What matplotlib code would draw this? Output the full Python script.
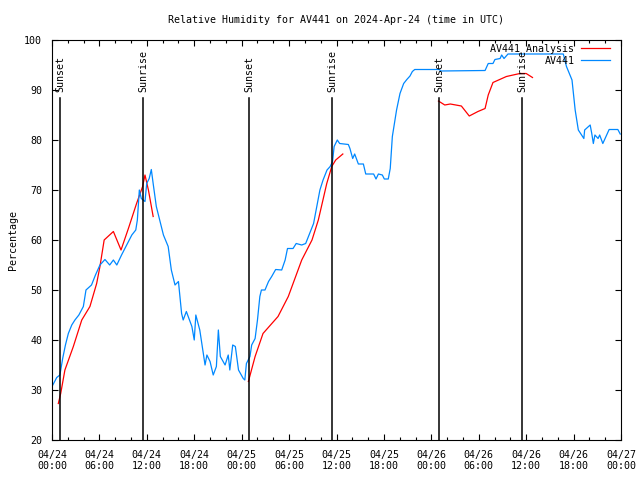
import matplotlib
matplotlib.use('Agg')
import matplotlib.pyplot as plt
import matplotlib.dates as mdates
import numpy as np

plt.rcParams['font.family'] = ['DejaVu Sans Mono']
plt.rcParams['font.size'] = 7.2

START = np.datetime64('2024-04-24T00:00')

# Observed station data (hours since start, % RH)
obs_hours = [0.1, 0.6, 1.0, 1.35, 1.7, 2.07, 2.5, 2.9, 3.4, 3.96, 4.3, 5.0, 5.5, 6.07, 6.7,
             7.3, 7.76, 8.2, 8.8, 9.45, 10.1, 10.6, 10.8, 11.05, 11.3, 11.77, 11.98, 12.3,
             12.57, 12.8, 13.2, 13.67, 14.1, 14.7, 15.1, 15.56, 16.0, 16.4, 16.6, 17.0, 17.7,
             18.0, 18.2, 18.7, 19.36, 19.6, 20.0, 20.4, 20.8, 21.05, 21.3, 21.9, 22.3, 22.5,
             22.86, 23.2, 23.6, 24.2, 24.4, 24.6, 25.05, 25.27, 25.7, 26.0, 26.3, 26.5, 26.95,
             27.4, 27.8, 28.3, 29.06, 29.5, 29.8, 30.5, 30.9, 31.6, 32.1, 32.6, 33.1, 33.5,
             33.9, 34.3, 34.8, 35.2, 35.5, 35.7, 36.1, 36.4, 37.5, 37.7, 38.05, 38.3, 38.76,
             39.4, 39.7, 40.7, 41.0, 41.3, 41.8, 42.05, 42.55, 42.8, 43.06, 43.4, 43.6, 44.03,
             44.5, 44.9, 45.3, 45.6, 45.9, 49.0, 49.2, 54.8, 55.2, 55.8, 56.05, 56.7, 56.9,
             57.2, 57.7, 64.7, 65.1, 65.8, 66.2, 66.6, 67.3, 67.4, 68.1, 68.3, 68.5, 68.7,
             69.1, 69.3, 69.7, 70.5, 71.6, 71.9]
obs_rh = [31, 32.5, 33, 36.3, 39, 41.3, 43, 44, 45, 46.7, 50, 51, 53, 55, 56.1,
          55, 56, 55, 57, 59, 61, 62, 64, 70, 68.3, 67.7, 71.3, 72.3,
          74.1, 71.3, 66.7, 63.7, 61, 58.7, 54, 51, 51.7, 45.3, 44, 45.7, 42.7,
          40, 45, 42, 35, 37, 35.7, 33, 34.7, 42, 36.7, 35, 37, 34,
          39, 38.7, 34, 32.3, 32, 35.3, 36.7, 39, 40.3, 44, 48.7, 50, 50,
          51.7, 52.7, 54.1, 54, 56, 58.3, 58.3, 59.3, 59, 59.3, 61.3, 63.3, 66.7,
          70, 72, 74, 74.7, 75.7, 78.7, 80, 79.3, 79.1, 78.3, 76.3, 77.2, 75.2,
          75.2, 73.2, 73.2, 72.2, 73.2, 73, 72.2, 72.2, 74.3, 80.7, 84, 86, 89.3,
          91.3, 92.1, 92.8, 93.7, 94.1, 94.1, 93.8, 93.9, 95.3, 95.3, 96.1, 96.3, 97,
          96.3, 97.2, 97.2, 94.7, 92, 86, 82, 80.3, 82, 83, 81.3, 79.3, 81,
          80.3, 81, 79.3, 82.1, 82.1, 81.2]

# Analysis runs (three separate segments)
ana1_hours = [0.8, 1.1, 1.64, 2.7, 3.76, 4.8, 5.65, 6.07, 6.6, 7.76, 8.73, 9.66, 10.7,
              11.47, 11.77, 12.2, 12.8]
ana1_rh = [27.3, 29.3, 34, 38.7, 44, 46.7, 51.3, 54.7, 60, 61.7, 58, 62.3, 67.3,
           70.7, 73, 70, 64.7]
ana2_hours = [24.85, 25.7, 26.7, 28.6, 29.9, 31.6, 32.9, 33.7, 34.76, 35.4, 35.9, 36.8]
ana2_rh = [31.7, 36.7, 41.3, 44.7, 48.7, 56, 60, 64, 71.3, 74.7, 76, 77.2]
ana3_hours = [48.9, 49.7, 50.4, 51.8, 52.8, 53.9, 54.8, 55.2, 55.8, 57.5, 59.2, 60.0, 60.8]
ana3_rh = [87.8, 87, 87.2, 86.8, 84.8, 85.7, 86.3, 89, 91.5, 92.7, 93.3, 93.3, 92.5]

sun_hours = [1.02, 11.56, 24.97, 35.47, 49.0, 59.5]
sun_labels = ['Sunset', 'Sunrise', 'Sunset', 'Sunrise', 'Sunset', 'Sunrise']


def to_time(hours):
    return START + (np.array(hours) * 60).round().astype('timedelta64[m]')


RED = '#ff0000'
BLUE = '#0088ff'

fig = plt.figure(figsize=(6.4, 4.8), dpi=100)
ax = fig.add_axes([52 / 640, 40 / 480, 569 / 640, 400 / 480])

ax.plot(to_time(ana1_hours), ana1_rh, color=RED, lw=0.9, label='AV441 Analysis')
ax.plot(to_time(ana2_hours), ana2_rh, color=RED, lw=0.9)
ax.plot(to_time(ana3_hours), ana3_rh, color=RED, lw=0.9)
ax.plot(to_time(obs_hours), obs_rh, color=BLUE, lw=0.9, label='AV441')

# Sunrise / sunset markers
for h, lab in zip(sun_hours, sun_labels):
    t = to_time([h])[0]
    ax.plot([t, t], [20, 88.4], color='black', lw=1.1)
    ax.text(t, 89.6, lab, rotation=90, ha='center', va='bottom')

ax.set_xlim(START, START + np.timedelta64(72, 'h'))
ax.set_ylim(20, 100)
ax.set_yticks(np.arange(20, 101, 10))

ax.xaxis.set_major_locator(mdates.HourLocator(byhour=[0, 6, 12, 18]))
ax.xaxis.set_minor_locator(mdates.HourLocator(interval=2))
ax.xaxis.set_major_formatter(mdates.DateFormatter('%m/%d\n%H:%M'))

ax.tick_params(which='both', direction='in', top=True, right=True, width=0.8)
ax.tick_params(which='major', length=4, pad=7)
ax.tick_params(which='minor', length=2.5)
for s in ax.spines.values():
    s.set_linewidth(0.8)

ax.set_ylabel('Percentage')
ax.yaxis.set_label_coords(-34 / 569, 0.5)
ax.set_title('Relative Humidity for AV441 on 2024-Apr-24 (time in UTC)', fontsize=7.2, pad=12)

ax.legend(loc='upper right', bbox_to_anchor=(1 - 6.6 / 569, 1.0), markerfirst=False,
          frameon=False, handlelength=2.9, borderaxespad=0, labelspacing=0.2,
          handletextpad=0.7)

plt.savefig('out.png', dpi=100)
plt.close()
